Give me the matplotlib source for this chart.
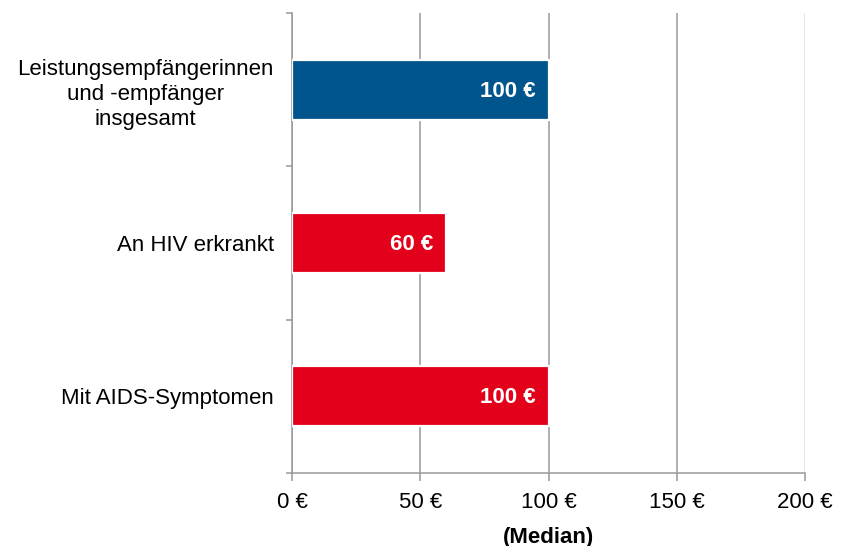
"""
    Median-Leistungen nach Gruppe, horizontales Balkendiagramm
"""

import matplotlib
matplotlib.use('Agg')
from matplotlib import pyplot as plt
import numpy as np

# data
categories = ['Leistungsempfängerinnen\nund -empfänger\ninsgesamt',
              'An HIV erkrankt',
              'Mit AIDS-Symptomen']
values = [100, 60, 100]
bar_colors = ['#00558C', '#E2001A', '#E2001A']
value_labels = ['100 €', '60 €', '100 €']
x_ticks = [0, 50, 100, 150, 200]
x_tick_labels = ['0 €', '50 €', '100 €', '150 €', '200 €']
x_label = '(Median)'

plt.rcParams['font.family'] = ['Liberation Sans', 'DejaVu Sans']
FS = 16

fig = plt.figure(figsize=(8.43, 5.46), dpi=100)
ax = fig.add_axes([0.3464, 0.1337, 0.6086, 0.8425])

ypos = np.arange(len(categories))
ax.barh(ypos, values, height=0.39, color=bar_colors, edgecolor='white',
        linewidth=1.6, zorder=3)

for y, v, lab in zip(ypos, values, value_labels):
    ax.annotate(lab, (v, y), xytext=(-9, -1), textcoords='offset points',
                ha='right', va='center', color='white', fontsize=FS,
                fontweight='bold', zorder=4)

ax.set_xlim(0, 200)
ax.set_ylim(len(categories) - 0.5, -0.5)

# x axis
ax.set_xticks(x_ticks)
ax.set_xticklabels(x_tick_labels, fontsize=FS)
ax.tick_params(axis='x', direction='out', length=6, width=1.1,
               color='#999999', pad=7.5)
ax.set_xlabel(x_label, fontsize=FS, fontweight='bold', labelpad=10)

# y axis: ticks at category boundaries, labels at centers
ax.set_yticks(np.arange(-0.5, len(categories)))
ax.set_yticklabels([])
ax.tick_params(axis='y', which='major', direction='out', length=4,
               width=1.1, color='#999999')
ax.set_yticks(ypos, minor=True)
ax.set_yticklabels(categories, minor=True, fontsize=FS, linespacing=1.27,
                   multialignment='center')
ax.tick_params(axis='y', which='minor', length=0, pad=13)

ax.grid(axis='x', color='#999999', linewidth=1.1, zorder=0)
ax.get_xgridlines()[-1].set_color('#dddddd')
ax.set_axisbelow(True)

for s in ['top', 'right']:
    ax.spines[s].set_visible(False)
for s in ['left', 'bottom']:
    ax.spines[s].set_color('#999999')
    ax.spines[s].set_linewidth(1.1)

fig.savefig('out.png', dpi=100)
